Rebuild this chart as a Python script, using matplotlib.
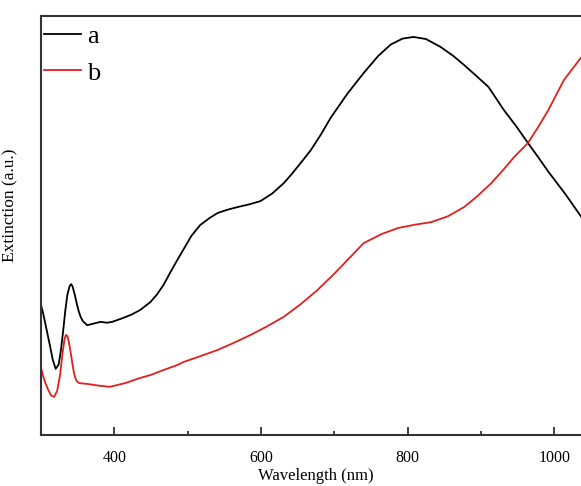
import matplotlib
matplotlib.use("Agg")
import matplotlib.pyplot as plt
from matplotlib.ticker import MultipleLocator

plt.rcParams['font.family'] = ['Liberation Serif', 'DejaVu Serif']

# Sample a
wl_a = [300, 303, 306, 309, 312, 316, 320, 324, 327, 330, 333, 336, 339, 341, 343, 346, 349,
        351, 354, 357, 363, 372, 381, 390, 397, 410, 423, 435, 449, 458, 467, 476, 485, 494,
        505, 517, 530, 541, 555, 568, 583, 599, 615, 631, 642, 654, 668, 682, 695, 718, 740,
        760, 777, 793, 808, 825, 845, 862, 877, 893, 910, 920, 931, 948, 964, 978, 992, 1015,
        1037, 1050]
ext_a = [0.310, 0.290, 0.265, 0.240, 0.215, 0.180, 0.158, 0.168, 0.200, 0.245, 0.295, 0.335,
         0.355, 0.360, 0.355, 0.335, 0.312, 0.298, 0.282, 0.272, 0.262, 0.266, 0.270, 0.268,
         0.270, 0.278, 0.287, 0.298, 0.317, 0.335, 0.358, 0.387, 0.415, 0.442, 0.475, 0.501,
         0.518, 0.530, 0.538, 0.544, 0.550, 0.558, 0.576, 0.601, 0.623, 0.649, 0.680, 0.718,
         0.757, 0.815, 0.864, 0.905, 0.932, 0.946, 0.950, 0.945, 0.926, 0.905, 0.883, 0.858,
         0.831, 0.805, 0.776, 0.737, 0.697, 0.663, 0.628, 0.575, 0.520, 0.490]

# Sample b
wl_b = [300, 303, 306, 310, 314, 318, 322, 326, 329, 332, 334, 336, 338, 341, 343, 345, 347,
        349, 352, 356, 363, 378, 394, 415, 435, 449, 467, 486, 494, 517, 541, 563, 586, 608,
        631, 654, 677, 700, 722, 740, 765, 787, 810, 832, 855, 877, 895, 914, 930, 945, 964,
        978, 992, 1013, 1037, 1050]
ext_b = [0.160, 0.140, 0.124, 0.107, 0.094, 0.091, 0.105, 0.143, 0.190, 0.228, 0.239, 0.236,
         0.222, 0.191, 0.168, 0.148, 0.135, 0.128, 0.124, 0.123, 0.122, 0.118, 0.115, 0.124,
         0.136, 0.143, 0.155, 0.167, 0.174, 0.188, 0.203, 0.220, 0.239, 0.259, 0.282, 0.312,
         0.346, 0.385, 0.425, 0.458, 0.480, 0.494, 0.502, 0.508, 0.522, 0.544, 0.570, 0.601,
         0.632, 0.663, 0.697, 0.735, 0.776, 0.847, 0.902, 0.925]

fig = plt.figure(figsize=(5.81, 4.86), dpi=100)
ax = fig.add_axes([41/581, 51/486, 550/581, 419/486])

ax.plot(wl_a, ext_a, color='black', lw=1.3, label='a')
ax.plot(wl_b, ext_b, color='#e0201e', lw=1.3, label='b')

ax.set_xlim(300, 1050)
ax.set_ylim(0, 1)

for s in ['left', 'bottom', 'top', 'right']:
    ax.spines[s].set_linewidth(1.5)
    ax.spines[s].set_color('#333333')

ax.xaxis.set_major_locator(MultipleLocator(200))
ax.xaxis.set_minor_locator(MultipleLocator(100))
ax.tick_params(axis='x', which='major', direction='in', length=6, width=1.3,
               labelsize=11.5, pad=11, color='#333333', top=False)
ax.tick_params(axis='x', which='minor', direction='in', length=3, width=1.3,
               color='#333333', top=False)
ax.set_yticks([])

ax.set_xlabel('Wavelength (nm)', fontsize=12, labelpad=1)
ax.set_ylabel('Extinction (a.u.)', fontsize=12.5)
ax.yaxis.set_label_coords(-0.042, 0.549)

leg = ax.legend(loc='upper left', frameon=False, fontsize=19, handlelength=1.4,
                handletextpad=0.25, labelspacing=0.5, borderaxespad=0.0, borderpad=0.0,
                bbox_to_anchor=(0.005, 0.98))

fig.savefig('out.png', dpi=100)
